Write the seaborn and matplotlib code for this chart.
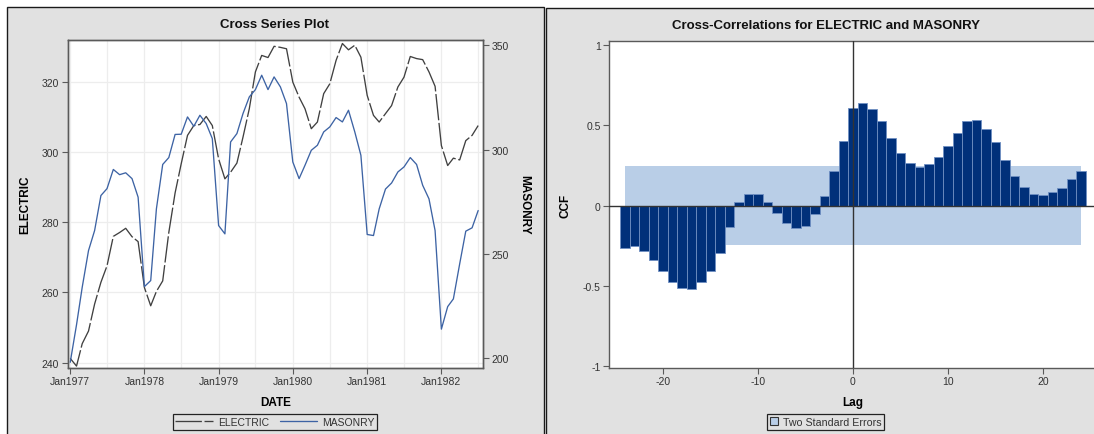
import numpy as np
import pandas as pd
import matplotlib
matplotlib.use("Agg")
import matplotlib.pyplot as plt
import matplotlib.dates as mdates
from matplotlib.patches import Rectangle, Patch
import seaborn as sns

# Monthly series, Jan 1977 - Jul 1982
dates = pd.date_range("1977-01-01", periods=67, freq="MS")
electric = [241.2, 239.0, 245.4, 249.0, 256.7, 262.9, 267.6, 276.0, 277.1, 278.3,
            275.9, 274.5, 261.4, 256.2, 260.3, 263.3, 277.1, 288.4, 296.7, 304.8,
            307.6, 307.9, 310.2, 307.6, 298.1, 292.4, 294.3, 296.9, 304.3, 312.4,
            322.9, 327.6, 327.0, 330.2, 329.9, 329.5, 320.0, 315.7, 312.4, 306.7,
            308.6, 316.7, 319.5, 326.2, 331.0, 329.2, 330.5, 327.1, 316.2, 310.5,
            308.6, 311.0, 313.3, 318.6, 321.4, 327.3, 326.7, 326.4, 322.9, 318.8,
            301.9, 296.2, 298.3, 297.8, 303.3, 304.8, 307.6]
masonry = [198.0, 216.0, 234.0, 251.6, 261.2, 278.0, 281.3, 290.5, 288.0, 288.9,
           286.1, 277.2, 234.3, 237.2, 271.6, 292.9, 296.2, 307.3, 307.4, 315.7,
           311.2, 316.5, 312.5, 305.3, 263.6, 259.6, 303.7, 307.7, 317.3, 325.3,
           328.8, 335.7, 328.8, 334.9, 330.1, 322.1, 294.1, 286.1, 292.5, 299.7,
           302.1, 308.5, 310.9, 315.4, 313.3, 318.9, 308.5, 297.3, 259.3, 258.8,
           271.6, 281.1, 284.0, 289.3, 291.7, 296.2, 292.9, 282.9, 276.4, 261.2,
           213.9, 224.7, 228.4, 245.2, 260.9, 262.5, 270.8]

# Cross-correlations, lags -24 .. 24
lags = np.arange(-24, 25)
ccf = [-0.262, -0.252, -0.281, -0.343, -0.410, -0.478, -0.517, -0.521, -0.478, -0.410,
       -0.295, -0.134, 0.021, 0.073, 0.073, 0.021, -0.046, -0.108, -0.140, -0.129,
       -0.050, 0.060, 0.213, 0.403, 0.607, 0.638, 0.601, 0.526, 0.420, 0.325,
       0.264, 0.242, 0.258, 0.302, 0.370, 0.455, 0.526, 0.532, 0.480, 0.397,
       0.285, 0.184, 0.115, 0.073, 0.067, 0.083, 0.112, 0.166, 0.218]
two_std_err = 0.244

electric_ticks = [240, 260, 280, 300, 320]
masonry_ticks = [200, 250, 300, 350]
lag_ticks = [-20, -10, 0, 10, 20]
ccf_ticks = [-1, -0.5, 0, 0.5, 1]
ccf_tick_labels = ["-1", "-0.5", "0", "0.5", "1"]

sns.set_theme(style="ticks")
plt.rcParams["font.family"] = ["Liberation Sans", "DejaVu Sans"]
plt.rcParams["axes.unicode_minus"] = False

W, H = 1094, 435
fig = plt.figure(figsize=(W / 100, H / 100), dpi=100, facecolor="white")


def fx(px):
    return px / W


def fy(py):
    return 1 - py / H


PANEL = "#e1e1e1"
SPINE = "#5a5a5a"
TICKTXT = "#333333"
ELEC_C = "#404040"
MAS_C = "#3d63a4"
BAR_C = "#00307a"
BAND_C = "#b9cee7"

# panel backgrounds
fig.add_artist(Rectangle((fx(6.5), -0.05), fx(544) - fx(6.5), fy(7.5) + 0.05,
                         transform=fig.transFigure, facecolor=PANEL,
                         edgecolor="#1a1a1a", lw=1.0, zorder=-10))
fig.add_artist(Rectangle((fx(545.5), -0.05), fx(1100) - fx(545.5), fy(8.5) + 0.05,
                         transform=fig.transFigure, facecolor=PANEL,
                         edgecolor="#1a1a1a", lw=1.0, zorder=-10))

# ---------------- left: cross series plot ----------------
ax = fig.add_axes([fx(67.5), fy(368.5), fx(483) - fx(67.5), fy(41) - fy(368.5)])
ax.set_facecolor("white")
sns.lineplot(x=dates, y=electric, ax=ax, color=ELEC_C, linewidth=0.95,
             linestyle=(0, (20, 2)), label="ELECTRIC", legend=False)
ax_r = ax.twinx()
sns.lineplot(x=dates, y=masonry, ax=ax_r, color=MAS_C, linewidth=0.95,
             label="MASONRY", legend=False)

month_days = 30.44
x0 = mdates.date2num(dates[0]) - 0.44 * month_days
x1 = mdates.date2num(dates[-1]) + 0.78 * month_days
ax.set_xlim(x0, x1)
ax.set_ylim(238.6, 332.0)
ax_r.set_ylim(195.5, 352.6)

ax.xaxis.set_major_locator(mdates.MonthLocator(bymonth=1))
ax.xaxis.set_major_formatter(mdates.DateFormatter("%b%Y"))
ax.xaxis.set_minor_locator(mdates.MonthLocator(bymonth=7))
ax.set_yticks(electric_ticks)
ax_r.set_yticks(masonry_ticks)

ax.set_axisbelow(True)
ax.grid(True, axis="x", which="both", color="#ededed", lw=0.9)
ax.grid(True, axis="y", which="major", color="#ededed", lw=0.9)
ax_r.grid(False)

for a in (ax, ax_r):
    a.tick_params(axis="both", which="major", length=4, width=0.8, color=SPINE,
                  labelsize=7.5, labelcolor=TICKTXT, pad=2)
    a.tick_params(axis="x", which="minor", length=0)
    for s in a.spines.values():
        s.set_color(SPINE)
        s.set_linewidth(1.0)
        s.set_visible(True)
ax.tick_params(axis="y", left=True, right=False)
ax.tick_params(axis="x", bottom=True)
ax_r.tick_params(axis="y", right=True, left=False, labelright=True, labelleft=False)

lab_kw = dict(fontsize=8.5, fontweight="bold", color="black")
ax.set_ylabel("ELECTRIC", **lab_kw)
ax.yaxis.set_label_coords(-0.1023, 0.5)
ax_r.set_ylabel("MASONRY", rotation=270, **lab_kw)
ax_r.yaxis.set_label_coords(1.0987, 0.5)
ax.set_xlabel("DATE", **lab_kw)
ax.xaxis.set_label_coords(0.5, -0.1053)
for lab in (ax.yaxis.label, ax_r.yaxis.label, ax.xaxis.label):
    lab.set_va("center")
    lab.set_ha("center")

fig.text(fx(275), fy(25), "Cross Series Plot", ha="center", va="center",
         fontsize=9.5, fontweight="bold", color="#111111")

h1, l1 = ax.get_legend_handles_labels()
h2, l2 = ax_r.get_legend_handles_labels()
leg1 = fig.legend(h1 + h2, l1 + l2, loc="center", bbox_to_anchor=(fx(275), fy(423)),
                  ncol=2, frameon=True, fancybox=False, edgecolor="#222222",
                  facecolor=PANEL, framealpha=1, fontsize=7.5, handlelength=3.6,
                  columnspacing=1.0, handletextpad=0.5, borderpad=0.25)
leg1.get_frame().set_linewidth(0.9)
for t in leg1.get_texts():
    t.set_color(TICKTXT)

# ---------------- right: cross-correlations ----------------
ax2 = fig.add_axes([fx(609), fy(369), fx(1096.6) - fx(609), fy(42) - fy(369)])
ax2.set_facecolor("white")
ax2.fill_between([lags[0], lags[-1]], -two_std_err, two_std_err,
                 color=BAND_C, lw=0, zorder=0)
sns.barplot(x=lags, y=ccf, native_scale=True, width=1.0, color=BAR_C,
            saturation=1, edgecolor="#6f8fc2", linewidth=0.6, errorbar=None,
            ax=ax2, zorder=2)
ax2.axhline(0, color="#333333", lw=1.0, zorder=3)
ax2.axvline(0, color="#333333", lw=1.0, zorder=3)
ax2.set_xlim(-25.66, 25.66)
ax2.set_ylim(-1.014, 1.027)
ax2.set_xticks(lag_ticks)
ax2.set_xticklabels([str(v) for v in lag_ticks])
ax2.set_yticks(ccf_ticks)
ax2.set_yticklabels(ccf_tick_labels)
ax2.tick_params(axis="both", which="major", length=4, width=0.8, color=SPINE,
                labelsize=7.5, labelcolor=TICKTXT, pad=2, left=True, bottom=True)
for s in ax2.spines.values():
    s.set_color(SPINE)
    s.set_linewidth(1.0)
    s.set_visible(True)
ax2.set_ylabel("CCF", **lab_kw)
ax2.yaxis.set_label_coords(-0.0902, 0.5)
ax2.set_xlabel("Lag", **lab_kw)
ax2.xaxis.set_label_coords(0.5, -0.104)
for lab in (ax2.yaxis.label, ax2.xaxis.label):
    lab.set_va("center")
    lab.set_ha("center")

fig.text(fx(826), fy(26), "Cross-Correlations for ELECTRIC and MASONRY",
         ha="center", va="center", fontsize=9.5, fontweight="bold", color="#111111")

band_handle = Patch(facecolor=BAND_C, edgecolor="#333333", lw=0.8)
leg2 = fig.legend([band_handle], ["Two Standard Errors"], loc="center",
                  bbox_to_anchor=(fx(825.5), fy(423)), frameon=True, fancybox=False,
                  edgecolor="#222222", facecolor=PANEL, framealpha=1, fontsize=7.7,
                  handlelength=0.8, handleheight=0.8, handletextpad=0.4,
                  borderpad=0.25)
leg2.get_frame().set_linewidth(0.9)
for t in leg2.get_texts():
    t.set_color(TICKTXT)

fig.savefig("out.png", dpi=100, facecolor=fig.get_facecolor())
